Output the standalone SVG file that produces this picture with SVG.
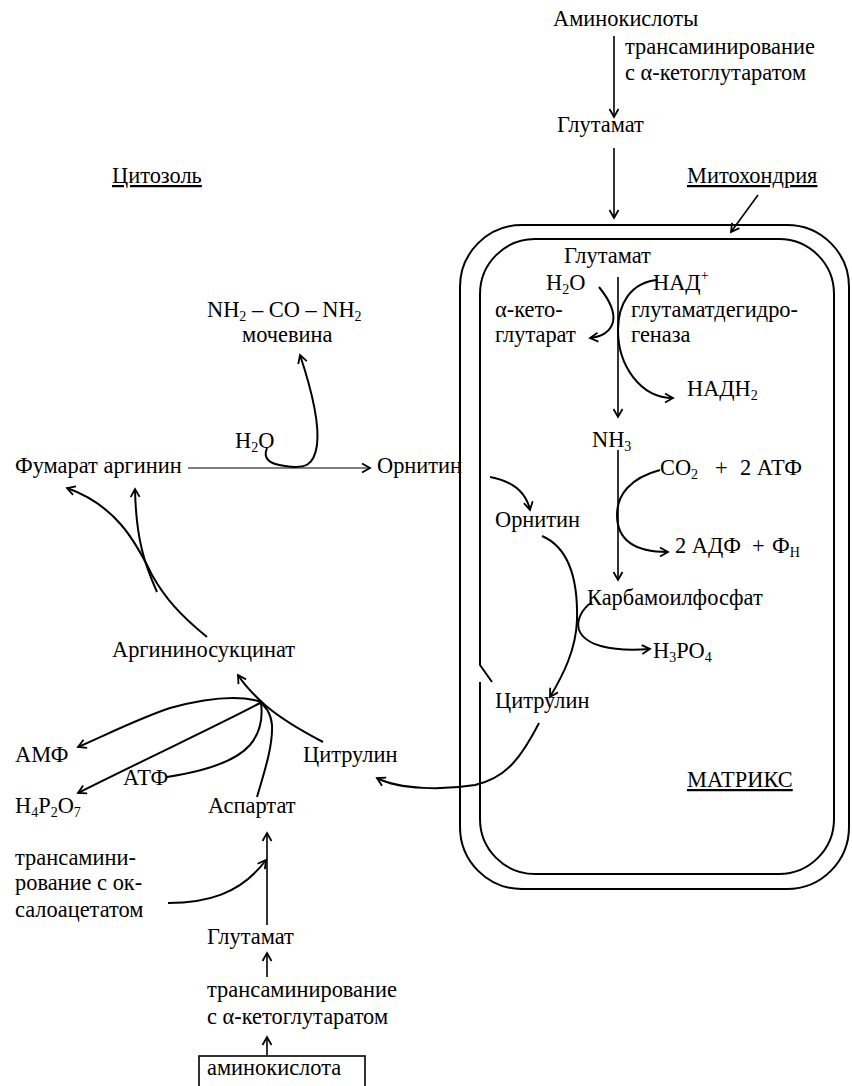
<svg xmlns="http://www.w3.org/2000/svg" width="852" height="1086" viewBox="0 0 852 1086">
<style>
text{font-family:"Liberation Serif","Times New Roman",serif;font-size:22.4px;fill:#000}
.u{text-decoration:underline}
.s{font-size:14px}
.ln{fill:none;stroke:#000;stroke-width:1.6}
.th{fill:none;stroke:#000;stroke-width:1.2}
.cv{fill:none;stroke:#000;stroke-width:2}
.mem{fill:none;stroke:#000;stroke-width:2}
</style>
<defs>
<marker id="ah" markerUnits="userSpaceOnUse" markerWidth="14" markerHeight="14" refX="0" refY="0" viewBox="-10 -7 12 14" orient="auto" overflow="visible">
<path d="M-8,-4.5 L0,0 L-8,4.5" fill="none" stroke="#000" stroke-width="1.8"/>
</marker>
</defs>
<rect width="852" height="1086" fill="#fff"/>

<g id="mitochondrion">
<rect x="460" y="225" width="389" height="664" rx="62" ry="62" class="mem"/>
<path d="M480,682 L480,819 A55,55 0 0 0 535,874 L779,874 A55,55 0 0 0 834,819 L834,294 A55,55 0 0 0 779,239 L535,239 A55,55 0 0 0 480,294 L480,665 L492,682" class="mem"/>
</g>

<g id="connectors">
<path d="M614,36 L614,117" class="ln" marker-end="url(#ah)"/>
<path d="M614,148 L614,218" class="ln" marker-end="url(#ah)"/>
<path d="M758,195 L731,232" class="ln" marker-end="url(#ah)"/>
<path d="M618,277 L618,417" class="ln" marker-end="url(#ah)"/>
<path d="M599,287 Q616,308 613,322 Q609,336 590,338" class="cv" marker-end="url(#ah)"/>
<path d="M658,280 C630,282 618,305 618,330 C618,365 640,398 673,398" class="cv" marker-end="url(#ah)"/>
<path d="M618,450 L618,580" class="ln" marker-end="url(#ah)"/>
<path d="M660,470 C630,478 617,495 617,515 C617,540 635,552 668,552" class="cv" marker-end="url(#ah)"/>
<path d="M490,477 C512,481 526,492 530,510" class="cv" marker-end="url(#ah)"/>
<path d="M542,536 C570,548 578,580 577,620 C576,650 563,675 550,697" class="cv" marker-end="url(#ah)"/>
<path d="M592,602 C582,609 576,620 579,630 C585,645 610,652 650,649" class="cv" marker-end="url(#ah)"/>
<path d="M539,723 C520,760 505,778 475,785 C445,790 400,790 377,778" class="cv" marker-end="url(#ah)"/>
<path d="M188,468 L370,468" class="th" marker-end="url(#ah)"/>
<path d="M267,448 C263,458 268,464 285,466 C305,469 314,466 317,445 C320,420 310,385 300,355" class="cv" marker-end="url(#ah)"/>
<path d="M207,637 C180,615 165,598 152,575 C135,540 115,505 67,488" class="cv" marker-end="url(#ah)"/>
<path d="M157,592 C145,565 136,540 135,489" class="cv" marker-end="url(#ah)"/>
<path d="M323,742 C300,730 280,718 265,705 C255,696 245,686 238,675" class="cv" marker-end="url(#ah)"/>
<path d="M262,702 C240,695 210,697 170,708 C140,718 110,733 78,747" class="cv" marker-end="url(#ah)"/>
<path d="M262,702 C225,722 160,752 78,793" class="cv" marker-end="url(#ah)"/>
<path d="M167,777 C200,772 235,762 250,745 C260,733 263,718 261,703" class="cv"/>
<path d="M257,797 C265,770 273,745 272,725 C271,713 265,705 257,700" class="cv"/>
<path d="M267,925 L267,833" class="ln" marker-end="url(#ah)"/>
<path d="M168,903 C205,903 240,895 266,860" class="cv" marker-end="url(#ah)"/>
<path d="M267,977 L267,953" class="ln" marker-end="url(#ah)"/>
<path d="M267,1055 L267,1037" class="ln" marker-end="url(#ah)"/>
</g>

<g id="aminoacids-top"><text x="553" y="26">Аминокислоты</text></g>
<g id="transam-top"><text x="625" y="54">трансаминирование</text><text x="625" y="80">с α-кетоглутаратом</text></g>
<g id="glutamate-top"><text x="557" y="132">Глутамат</text></g>
<g id="cytosol"><text x="112" y="183" class="u">Цитозоль</text></g>
<g id="mito-label"><text x="687" y="183" class="u">Митохондрия</text></g>
<g id="glutamate-in"><text x="564" y="263">Глутамат</text></g>
<g id="h2o-in"><text x="546" y="290">H<tspan class="s" dy="4">2</tspan><tspan dy="-4">O</tspan></text></g>
<g id="nad"><text x="653" y="290">НАД<tspan class="s" dy="-10">+</tspan></text></g>
<g id="akg"><text x="495" y="317">α-кето-</text><text x="495" y="342">глутарат</text></g>
<g id="gdh"><text x="631" y="317">глутаматдегидро-</text><text x="631" y="342">геназа</text></g>
<g id="nadh2"><text x="687" y="396">НАДН<tspan class="s" dy="4">2</tspan></text></g>
<g id="nh3"><text x="592" y="447">NH<tspan class="s" dy="4">3</tspan></text></g>
<g id="co2-atp"><text x="660" y="475">CO<tspan class="s" dy="4">2</tspan></text><text x="715" y="475">+</text><text x="740" y="475">2 АТФ</text></g>
<g id="ornithine-in"><text x="495" y="527">Орнитин</text></g>
<g id="adp-pn"><text x="675" y="553">2 АДФ</text><text x="752" y="553">+</text><text x="772" y="553">Ф<tspan class="s" dy="4">Н</tspan></text></g>
<g id="carbamoyl"><text x="587" y="605">Карбамоилфосфат</text></g>
<g id="h3po4"><text x="653" y="658">H<tspan class="s" dy="4">3</tspan><tspan dy="-4">PO</tspan><tspan class="s" dy="4">4</tspan></text></g>
<g id="citrulline-in"><text x="495" y="708">Цитрулин</text></g>
<g id="matrix"><text x="687" y="787" class="u">МАТРИКС</text></g>
<g id="urea"><text x="207" y="317">NH<tspan class="s" dy="4">2</tspan><tspan dy="-4"> – CO – NH</tspan><tspan class="s" dy="4">2</tspan></text><text x="242" y="342">мочевина</text></g>
<g id="h2o-out"><text x="235" y="448">H<tspan class="s" dy="4">2</tspan><tspan dy="-4">O</tspan></text></g>
<g id="fumarate-arginine"><text x="15" y="473">Фумарат аргинин</text></g>
<g id="ornithine-out"><text x="377" y="473">Орнитин</text></g>
<g id="argininosuccinate"><text x="112" y="657">Аргининосукцинат</text></g>
<g id="amp"><text x="15" y="762">АМФ</text></g>
<g id="citrulline-out"><text x="303" y="762">Цитрулин</text></g>
<g id="atp"><text x="123" y="785">АТФ</text></g>
<g id="h4p2o7"><text x="15" y="813">H<tspan class="s" dy="4">4</tspan><tspan dy="-4">P</tspan><tspan class="s" dy="4">2</tspan><tspan dy="-4">O</tspan><tspan class="s" dy="4">7</tspan></text></g>
<g id="aspartate"><text x="208" y="813">Аспартат</text></g>
<g id="transam-oaa"><text x="15" y="865">трансамини-</text><text x="15" y="890">рование с ок-</text><text x="15" y="917">салоацетатом</text></g>
<g id="glutamate-bottom"><text x="207" y="944">Глутамат</text></g>
<g id="transam-bottom"><text x="207" y="997">трансаминирование</text><text x="207" y="1024">с α-кетоглутаратом</text></g>
<g id="aminoacid-box"><rect x="199" y="1056" width="166" height="40" class="ln"/><text x="207" y="1075">аминокислота</text></g>
</svg>
